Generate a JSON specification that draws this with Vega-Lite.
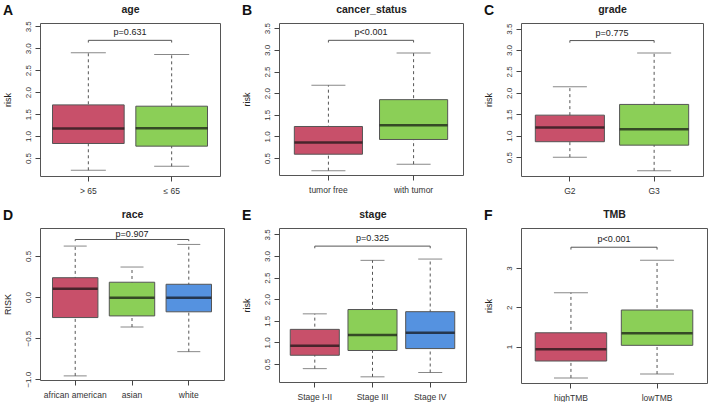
{
  "$schema": "https://vega.github.io/schema/vega-lite/v6.json",
  "padding": {"left": 2, "top": 3, "right": 0, "bottom": 0},
  "background": "white",
  "resolve": {"scale": {"color": "independent"}},
  "config": {
    "font": "Liberation Sans",
    "view": {"stroke": "#555", "strokeWidth": 1},
    "axis": {"labelColor": "#333", "tickColor": "#444", "titleColor": "#222", "labelFont": "Liberation Sans", "titleFont": "Liberation Sans", "grid": false, "labelOverlap": false},
    "title": {"font": "Liberation Sans", "color": "#111"}
  },
  "datasets": {
    "A": [
      {"group": "> 65", "lo": 0.22, "q1": 0.83, "med": 1.17, "q3": 1.71, "hi": 2.9},
      {"group": "≤ 65", "lo": 0.31, "q1": 0.77, "med": 1.18, "q3": 1.68, "hi": 2.86}
    ],
    "A_p": [{"g1": "> 65", "g2": "≤ 65", "mid": "> 65", "y": 3.18, "ylo": 3.13, "label": "p=0.631"}],
    "B": [
      {"group": "tumor free", "lo": 0.21, "q1": 0.59, "med": 0.86, "q3": 1.23, "hi": 2.18},
      {"group": "with tumor", "lo": 0.36, "q1": 0.93, "med": 1.26, "q3": 1.85, "hi": 2.93}
    ],
    "B_p": [{"g1": "tumor free", "g2": "with tumor", "mid": "tumor free", "y": 3.22, "ylo": 3.17, "label": "p<0.001"}],
    "C": [
      {"group": "G2", "lo": 0.5, "q1": 0.86, "med": 1.19, "q3": 1.48, "hi": 2.14},
      {"group": "G3", "lo": 0.18, "q1": 0.78, "med": 1.15, "q3": 1.73, "hi": 2.93}
    ],
    "C_p": [{"g1": "G2", "g2": "G3", "mid": "G2", "y": 3.22, "ylo": 3.17, "label": "p=0.775"}],
    "D": [
      {"group": "african american", "lo": -0.96, "q1": -0.25, "med": 0.1, "q3": 0.235, "hi": 0.62},
      {"group": "asian", "lo": -0.365, "q1": -0.23, "med": -0.01, "q3": 0.18, "hi": 0.365},
      {"group": "white", "lo": -0.665, "q1": -0.18, "med": -0.01, "q3": 0.155, "hi": 0.64}
    ],
    "D_p": [{"g1": "african american", "g2": "white", "mid": "asian", "y": 0.7, "ylo": 0.68, "label": "p=0.907"}],
    "E": [
      {"group": "Stage I-II", "lo": 0.39, "q1": 0.7, "med": 0.92, "q3": 1.3, "hi": 1.66},
      {"group": "Stage III", "lo": 0.2, "q1": 0.81, "med": 1.17, "q3": 1.76, "hi": 2.9},
      {"group": "Stage IV", "lo": 0.3, "q1": 0.855, "med": 1.22, "q3": 1.71, "hi": 2.93}
    ],
    "E_p": [{"g1": "Stage I-II", "g2": "Stage IV", "mid": "Stage III", "y": 3.23, "ylo": 3.18, "label": "p=0.325"}],
    "F": [
      {"group": "highTMB", "lo": 0.2, "q1": 0.63, "med": 0.93, "q3": 1.35, "hi": 2.37},
      {"group": "lowTMB", "lo": 0.3, "q1": 1.03, "med": 1.34, "q3": 1.93, "hi": 3.2}
    ],
    "F_p": [{"g1": "highTMB", "g2": "lowTMB", "mid": "highTMB", "y": 3.53, "ylo": 3.47, "label": "p<0.001"}]
  },
  "columns": 3,
  "spacing": {"row": 13, "column": 16},
  "concat": [
    {
      "width": 180, "height": 153,
      "title": {"text": "A", "anchor": "start", "frame": "bounds", "fontSize": 14, "fontWeight": "bold", "offset": -14},
      "resolve": {"axis": {"x": "independent"}},
      "layer": [
        {"data": {"name": "A"}, "mark": {"type": "rule", "strokeDash": [3, 3], "color": "#555", "strokeWidth": 1},
         "encoding": {"x": {"field": "group", "type": "nominal", "axis": null}, "y": {"field": "lo", "type": "quantitative"}, "y2": {"field": "hi"}}},
        {"data": {"name": "A"}, "mark": {"type": "tick", "size": 35, "thickness": 1, "color": "#555"},
         "encoding": {"x": {"field": "group", "type": "nominal", "axis": null}, "y": {"field": "lo", "type": "quantitative"}}},
        {"data": {"name": "A"}, "mark": {"type": "tick", "size": 35, "thickness": 1, "color": "#555"},
         "encoding": {"x": {"field": "group", "type": "nominal", "axis": null}, "y": {"field": "hi", "type": "quantitative"}}},
        {"data": {"name": "A"}, "mark": {"type": "bar", "width": {"band": 0.86}, "stroke": "#555", "strokeWidth": 1},
         "encoding": {
           "x": {"field": "group", "type": "nominal", "scale": {"domain": ["> 65", "≤ 65"], "paddingInner": 0, "paddingOuter": 0.08},
                 "axis": {"orient": "bottom", "title": null, "labelAngle": 0, "tickSize": 5, "labelPadding": 5, "labelFontSize": 8.5, "domain": false}},
           "y": {"field": "q1", "type": "quantitative", "scale": {"domain": [0.09, 3.575], "nice": false, "zero": false},
                 "axis": {"values": [0.5, 1, 1.5, 2, 2.5, 3, 3.5], "tickCount": 20, "format": ".1f", "labelOverlap": false, "title": "risk", "labelAngle": -90, "labelAlign": "center", "labelBaseline": "bottom", "tickSize": 5, "labelPadding": 3, "labelFontSize": 8, "domain": false, "titleFontSize": 9, "titleFontWeight": "normal", "titlePadding": 12}},
           "y2": {"field": "q3"},
           "color": {"field": "group", "type": "nominal", "scale": {"domain": ["> 65", "≤ 65"], "range": ["#C8506A", "#8BCF57"]}, "legend": null}}},
        {"data": {"name": "A"}, "mark": {"type": "tick", "size": 72, "thickness": 2.5, "color": "#111"},
         "encoding": {"x": {"field": "group", "type": "nominal", "axis": null}, "y": {"field": "med", "type": "quantitative"}}},
        {"data": {"name": "A_p"}, "mark": {"type": "rule", "color": "#555", "strokeWidth": 1},
         "encoding": {"x": {"field": "g1", "type": "nominal", "bandPosition": 0.5,
                 "axis": {"orient": "top", "title": "age", "labels": false, "ticks": false, "domain": false, "titleFontWeight": "bold", "titleFontSize": 10.5, "titlePadding": 9}},
           "x2": {"field": "g2"}, "y": {"field": "y", "type": "quantitative"}}},
        {"data": {"name": "A_p"}, "mark": {"type": "rule", "color": "#555", "strokeWidth": 1},
         "encoding": {"x": {"field": "g1", "type": "nominal", "axis": null}, "y": {"field": "y", "type": "quantitative"}, "y2": {"field": "ylo"}}},
        {"data": {"name": "A_p"}, "mark": {"type": "rule", "color": "#555", "strokeWidth": 1},
         "encoding": {"x": {"field": "g2", "type": "nominal", "axis": null}, "y": {"field": "y", "type": "quantitative"}, "y2": {"field": "ylo"}}},
        {"data": {"name": "A_p"}, "mark": {"type": "text", "baseline": "bottom", "dy": -3, "fontSize": 9, "color": "#222"},
         "encoding": {"x": {"field": "mid", "type": "nominal", "bandPosition": 1, "axis": null}, "y": {"field": "y", "type": "quantitative"}, "text": {"field": "label"}}}
      ]
    },
    {
      "width": 184, "height": 152,
      "title": {"text": "B", "anchor": "start", "frame": "bounds", "fontSize": 14, "fontWeight": "bold", "offset": -14},
      "resolve": {"axis": {"x": "independent"}},
      "layer": [
        {"data": {"name": "B"}, "mark": {"type": "rule", "strokeDash": [3, 3], "color": "#555", "strokeWidth": 1},
         "encoding": {"x": {"field": "group", "type": "nominal", "axis": null}, "y": {"field": "lo", "type": "quantitative"}, "y2": {"field": "hi"}}},
        {"data": {"name": "B"}, "mark": {"type": "tick", "size": 34, "thickness": 1, "color": "#555"},
         "encoding": {"x": {"field": "group", "type": "nominal", "axis": null}, "y": {"field": "lo", "type": "quantitative"}}},
        {"data": {"name": "B"}, "mark": {"type": "tick", "size": 34, "thickness": 1, "color": "#555"},
         "encoding": {"x": {"field": "group", "type": "nominal", "axis": null}, "y": {"field": "hi", "type": "quantitative"}}},
        {"data": {"name": "B"}, "mark": {"type": "bar", "width": {"band": 0.8}, "stroke": "#555", "strokeWidth": 1},
         "encoding": {
           "x": {"field": "group", "type": "nominal", "scale": {"domain": ["tumor free", "with tumor"], "paddingInner": 0, "paddingOuter": 0.08},
                 "axis": {"orient": "bottom", "title": null, "labelAngle": 0, "tickSize": 5, "labelPadding": 5, "labelFontSize": 8.5, "domain": false}},
           "y": {"field": "q1", "type": "quantitative", "scale": {"domain": [0.11, 3.62], "nice": false, "zero": false},
                 "axis": {"values": [0.5, 1, 1.5, 2, 2.5, 3, 3.5], "tickCount": 20, "format": ".1f", "labelOverlap": false, "title": "risk", "labelAngle": -90, "labelAlign": "center", "labelBaseline": "bottom", "tickSize": 5, "labelPadding": 3, "labelFontSize": 8, "domain": false, "titleFontSize": 9, "titleFontWeight": "normal", "titlePadding": 12}},
           "y2": {"field": "q3"},
           "color": {"field": "group", "type": "nominal", "scale": {"domain": ["tumor free", "with tumor"], "range": ["#C8506A", "#8BCF57"]}, "legend": null}}},
        {"data": {"name": "B"}, "mark": {"type": "tick", "size": 68, "thickness": 2.5, "color": "#111"},
         "encoding": {"x": {"field": "group", "type": "nominal", "axis": null}, "y": {"field": "med", "type": "quantitative"}}},
        {"data": {"name": "B_p"}, "mark": {"type": "rule", "color": "#555", "strokeWidth": 1},
         "encoding": {"x": {"field": "g1", "type": "nominal", "bandPosition": 0.5,
                 "axis": {"orient": "top", "title": "cancer_status", "labels": false, "ticks": false, "domain": false, "titleFontWeight": "bold", "titleFontSize": 10.5, "titlePadding": 9}},
           "x2": {"field": "g2"}, "y": {"field": "y", "type": "quantitative"}}},
        {"data": {"name": "B_p"}, "mark": {"type": "rule", "color": "#555", "strokeWidth": 1},
         "encoding": {"x": {"field": "g1", "type": "nominal", "axis": null}, "y": {"field": "y", "type": "quantitative"}, "y2": {"field": "ylo"}}},
        {"data": {"name": "B_p"}, "mark": {"type": "rule", "color": "#555", "strokeWidth": 1},
         "encoding": {"x": {"field": "g2", "type": "nominal", "axis": null}, "y": {"field": "y", "type": "quantitative"}, "y2": {"field": "ylo"}}},
        {"data": {"name": "B_p"}, "mark": {"type": "text", "baseline": "bottom", "dy": -3, "fontSize": 9, "color": "#222"},
         "encoding": {"x": {"field": "mid", "type": "nominal", "bandPosition": 1, "axis": null}, "y": {"field": "y", "type": "quantitative"}, "text": {"field": "label"}}}
      ]
    },
    {
      "width": 182, "height": 153,
      "title": {"text": "C", "anchor": "start", "frame": "bounds", "fontSize": 14, "fontWeight": "bold", "offset": -14},
      "resolve": {"axis": {"x": "independent"}},
      "layer": [
        {"data": {"name": "C"}, "mark": {"type": "rule", "strokeDash": [3, 3], "color": "#555", "strokeWidth": 1},
         "encoding": {"x": {"field": "group", "type": "nominal", "axis": null}, "y": {"field": "lo", "type": "quantitative"}, "y2": {"field": "hi"}}},
        {"data": {"name": "C"}, "mark": {"type": "tick", "size": 34, "thickness": 1, "color": "#555"},
         "encoding": {"x": {"field": "group", "type": "nominal", "axis": null}, "y": {"field": "lo", "type": "quantitative"}}},
        {"data": {"name": "C"}, "mark": {"type": "tick", "size": 34, "thickness": 1, "color": "#555"},
         "encoding": {"x": {"field": "group", "type": "nominal", "axis": null}, "y": {"field": "hi", "type": "quantitative"}}},
        {"data": {"name": "C"}, "mark": {"type": "bar", "width": {"band": 0.82}, "stroke": "#555", "strokeWidth": 1},
         "encoding": {
           "x": {"field": "group", "type": "nominal", "scale": {"domain": ["G2", "G3"], "paddingInner": 0, "paddingOuter": 0.08},
                 "axis": {"orient": "bottom", "title": null, "labelAngle": 0, "tickSize": 5, "labelPadding": 5, "labelFontSize": 8.5, "domain": false}},
           "y": {"field": "q1", "type": "quantitative", "scale": {"domain": [0.06, 3.63], "nice": false, "zero": false},
                 "axis": {"values": [0.5, 1, 1.5, 2, 2.5, 3, 3.5], "tickCount": 20, "format": ".1f", "labelOverlap": false, "title": "risk", "labelAngle": -90, "labelAlign": "center", "labelBaseline": "bottom", "tickSize": 5, "labelPadding": 3, "labelFontSize": 8, "domain": false, "titleFontSize": 9, "titleFontWeight": "normal", "titlePadding": 12}},
           "y2": {"field": "q3"},
           "color": {"field": "group", "type": "nominal", "scale": {"domain": ["G2", "G3"], "range": ["#C8506A", "#8BCF57"]}, "legend": null}}},
        {"data": {"name": "C"}, "mark": {"type": "tick", "size": 69, "thickness": 2.5, "color": "#111"},
         "encoding": {"x": {"field": "group", "type": "nominal", "axis": null}, "y": {"field": "med", "type": "quantitative"}}},
        {"data": {"name": "C_p"}, "mark": {"type": "rule", "color": "#555", "strokeWidth": 1},
         "encoding": {"x": {"field": "g1", "type": "nominal", "bandPosition": 0.5,
                 "axis": {"orient": "top", "title": "grade", "labels": false, "ticks": false, "domain": false, "titleFontWeight": "bold", "titleFontSize": 10.5, "titlePadding": 9}},
           "x2": {"field": "g2"}, "y": {"field": "y", "type": "quantitative"}}},
        {"data": {"name": "C_p"}, "mark": {"type": "rule", "color": "#555", "strokeWidth": 1},
         "encoding": {"x": {"field": "g1", "type": "nominal", "axis": null}, "y": {"field": "y", "type": "quantitative"}, "y2": {"field": "ylo"}}},
        {"data": {"name": "C_p"}, "mark": {"type": "rule", "color": "#555", "strokeWidth": 1},
         "encoding": {"x": {"field": "g2", "type": "nominal", "axis": null}, "y": {"field": "y", "type": "quantitative"}, "y2": {"field": "ylo"}}},
        {"data": {"name": "C_p"}, "mark": {"type": "text", "baseline": "bottom", "dy": -3, "fontSize": 9, "color": "#222"},
         "encoding": {"x": {"field": "mid", "type": "nominal", "bandPosition": 1, "axis": null}, "y": {"field": "y", "type": "quantitative"}, "text": {"field": "label"}}}
      ]
    },
    {
      "width": 184, "height": 152,
      "title": {"text": "D", "anchor": "start", "frame": "bounds", "fontSize": 14, "fontWeight": "bold", "offset": -14},
      "resolve": {"axis": {"x": "independent"}},
      "layer": [
        {"data": {"name": "D"}, "mark": {"type": "rule", "strokeDash": [3, 3], "color": "#555", "strokeWidth": 1},
         "encoding": {"x": {"field": "group", "type": "nominal", "axis": null}, "y": {"field": "lo", "type": "quantitative"}, "y2": {"field": "hi"}}},
        {"data": {"name": "D"}, "mark": {"type": "tick", "size": 23, "thickness": 1, "color": "#555"},
         "encoding": {"x": {"field": "group", "type": "nominal", "axis": null}, "y": {"field": "lo", "type": "quantitative"}}},
        {"data": {"name": "D"}, "mark": {"type": "tick", "size": 23, "thickness": 1, "color": "#555"},
         "encoding": {"x": {"field": "group", "type": "nominal", "axis": null}, "y": {"field": "hi", "type": "quantitative"}}},
        {"data": {"name": "D"}, "mark": {"type": "bar", "width": {"band": 0.8}, "stroke": "#555", "strokeWidth": 1},
         "encoding": {
           "x": {"field": "group", "type": "nominal", "scale": {"domain": ["african american", "asian", "white"], "paddingInner": 0, "paddingOuter": 0.12},
                 "axis": {"orient": "bottom", "title": null, "labelAngle": 0, "tickSize": 5, "labelPadding": 5, "labelFontSize": 8.5, "domain": false}},
           "y": {"field": "q1", "type": "quantitative", "scale": {"domain": [-1.01, 0.84], "nice": false, "zero": false},
                 "axis": {"values": [-1, -0.5, 0, 0.5], "tickCount": 20, "format": ".1f", "labelOverlap": false, "title": "RISK", "labelAngle": -90, "labelAlign": "center", "labelBaseline": "bottom", "tickSize": 5, "labelPadding": 3, "labelFontSize": 8, "domain": false, "titleFontSize": 9, "titleFontWeight": "normal", "titlePadding": 12}},
           "y2": {"field": "q3"},
           "color": {"field": "group", "type": "nominal", "scale": {"domain": ["african american", "asian", "white"], "range": ["#C8506A", "#8BCF57", "#5592E0"]}, "legend": null}}},
        {"data": {"name": "D"}, "mark": {"type": "tick", "size": 45, "thickness": 2.5, "color": "#111"},
         "encoding": {"x": {"field": "group", "type": "nominal", "axis": null}, "y": {"field": "med", "type": "quantitative"}}},
        {"data": {"name": "D_p"}, "mark": {"type": "rule", "color": "#555", "strokeWidth": 1},
         "encoding": {"x": {"field": "g1", "type": "nominal", "bandPosition": 0.5,
                 "axis": {"orient": "top", "title": "race", "labels": false, "ticks": false, "domain": false, "titleFontWeight": "bold", "titleFontSize": 10.5, "titlePadding": 9}},
           "x2": {"field": "g2"}, "y": {"field": "y", "type": "quantitative"}}},
        {"data": {"name": "D_p"}, "mark": {"type": "rule", "color": "#555", "strokeWidth": 1},
         "encoding": {"x": {"field": "g1", "type": "nominal", "axis": null}, "y": {"field": "y", "type": "quantitative"}, "y2": {"field": "ylo"}}},
        {"data": {"name": "D_p"}, "mark": {"type": "rule", "color": "#555", "strokeWidth": 1},
         "encoding": {"x": {"field": "g2", "type": "nominal", "axis": null}, "y": {"field": "y", "type": "quantitative"}, "y2": {"field": "ylo"}}},
        {"data": {"name": "D_p"}, "mark": {"type": "text", "baseline": "bottom", "dy": -1, "fontSize": 9, "color": "#222"},
         "encoding": {"x": {"field": "mid", "type": "nominal", "bandPosition": 0.5, "axis": null}, "y": {"field": "y", "type": "quantitative"}, "text": {"field": "label"}}}
      ]
    },
    {
      "width": 187, "height": 154,
      "title": {"text": "E", "anchor": "start", "frame": "bounds", "fontSize": 14, "fontWeight": "bold", "offset": -14},
      "resolve": {"axis": {"x": "independent"}},
      "layer": [
        {"data": {"name": "E"}, "mark": {"type": "rule", "strokeDash": [3, 3], "color": "#555", "strokeWidth": 1},
         "encoding": {"x": {"field": "group", "type": "nominal", "axis": null}, "y": {"field": "lo", "type": "quantitative"}, "y2": {"field": "hi"}}},
        {"data": {"name": "E"}, "mark": {"type": "tick", "size": 24, "thickness": 1, "color": "#555"},
         "encoding": {"x": {"field": "group", "type": "nominal", "axis": null}, "y": {"field": "lo", "type": "quantitative"}}},
        {"data": {"name": "E"}, "mark": {"type": "tick", "size": 24, "thickness": 1, "color": "#555"},
         "encoding": {"x": {"field": "group", "type": "nominal", "axis": null}, "y": {"field": "hi", "type": "quantitative"}}},
        {"data": {"name": "E"}, "mark": {"type": "bar", "width": {"band": 0.85}, "stroke": "#555", "strokeWidth": 1},
         "encoding": {
           "x": {"field": "group", "type": "nominal", "scale": {"domain": ["Stage I-II", "Stage III", "Stage IV"], "paddingInner": 0, "paddingOuter": 0.12},
                 "axis": {"orient": "bottom", "title": null, "labelAngle": 0, "tickSize": 5, "labelPadding": 5, "labelFontSize": 8.5, "domain": false}},
           "y": {"field": "q1", "type": "quantitative", "scale": {"domain": [0.08, 3.65], "nice": false, "zero": false},
                 "axis": {"values": [0.5, 1, 1.5, 2, 2.5, 3, 3.5], "tickCount": 20, "format": ".1f", "labelOverlap": false, "title": "risk", "labelAngle": -90, "labelAlign": "center", "labelBaseline": "bottom", "tickSize": 5, "labelPadding": 3, "labelFontSize": 8, "domain": false, "titleFontSize": 9, "titleFontWeight": "normal", "titlePadding": 12}},
           "y2": {"field": "q3"},
           "color": {"field": "group", "type": "nominal", "scale": {"domain": ["Stage I-II", "Stage III", "Stage IV"], "range": ["#C8506A", "#8BCF57", "#5592E0"]}, "legend": null}}},
        {"data": {"name": "E"}, "mark": {"type": "tick", "size": 49, "thickness": 2.5, "color": "#111"},
         "encoding": {"x": {"field": "group", "type": "nominal", "axis": null}, "y": {"field": "med", "type": "quantitative"}}},
        {"data": {"name": "E_p"}, "mark": {"type": "rule", "color": "#555", "strokeWidth": 1},
         "encoding": {"x": {"field": "g1", "type": "nominal", "bandPosition": 0.5,
                 "axis": {"orient": "top", "title": "stage", "labels": false, "ticks": false, "domain": false, "titleFontWeight": "bold", "titleFontSize": 10.5, "titlePadding": 9}},
           "x2": {"field": "g2"}, "y": {"field": "y", "type": "quantitative"}}},
        {"data": {"name": "E_p"}, "mark": {"type": "rule", "color": "#555", "strokeWidth": 1},
         "encoding": {"x": {"field": "g1", "type": "nominal", "axis": null}, "y": {"field": "y", "type": "quantitative"}, "y2": {"field": "ylo"}}},
        {"data": {"name": "E_p"}, "mark": {"type": "rule", "color": "#555", "strokeWidth": 1},
         "encoding": {"x": {"field": "g2", "type": "nominal", "axis": null}, "y": {"field": "y", "type": "quantitative"}, "y2": {"field": "ylo"}}},
        {"data": {"name": "E_p"}, "mark": {"type": "text", "baseline": "bottom", "dy": -3, "fontSize": 9, "color": "#222"},
         "encoding": {"x": {"field": "mid", "type": "nominal", "bandPosition": 0.5, "axis": null}, "y": {"field": "y", "type": "quantitative"}, "text": {"field": "label"}}}
      ]
    },
    {
      "width": 186, "height": 155,
      "title": {"text": "F", "anchor": "start", "frame": "bounds", "fontSize": 14, "fontWeight": "bold", "offset": -14},
      "resolve": {"axis": {"x": "independent"}},
      "layer": [
        {"data": {"name": "F"}, "mark": {"type": "rule", "strokeDash": [3, 3], "color": "#555", "strokeWidth": 1},
         "encoding": {"x": {"field": "group", "type": "nominal", "axis": null}, "y": {"field": "lo", "type": "quantitative"}, "y2": {"field": "hi"}}},
        {"data": {"name": "F"}, "mark": {"type": "tick", "size": 34, "thickness": 1, "color": "#555"},
         "encoding": {"x": {"field": "group", "type": "nominal", "axis": null}, "y": {"field": "lo", "type": "quantitative"}}},
        {"data": {"name": "F"}, "mark": {"type": "tick", "size": 34, "thickness": 1, "color": "#555"},
         "encoding": {"x": {"field": "group", "type": "nominal", "axis": null}, "y": {"field": "hi", "type": "quantitative"}}},
        {"data": {"name": "F"}, "mark": {"type": "bar", "width": {"band": 0.83}, "stroke": "#555", "strokeWidth": 1},
         "encoding": {
           "x": {"field": "group", "type": "nominal", "scale": {"domain": ["highTMB", "lowTMB"], "paddingInner": 0, "paddingOuter": 0.08},
                 "axis": {"orient": "bottom", "title": null, "labelAngle": 0, "tickSize": 5, "labelPadding": 5, "labelFontSize": 8.5, "domain": false}},
           "y": {"field": "q1", "type": "quantitative", "scale": {"domain": [0.07, 4.02], "nice": false, "zero": false},
                 "axis": {"values": [1, 2, 3], "tickCount": 20, "format": "d", "labelOverlap": false, "title": "risk", "labelAngle": -90, "labelAlign": "center", "labelBaseline": "bottom", "tickSize": 5, "labelPadding": 3, "labelFontSize": 8, "domain": false, "titleFontSize": 9, "titleFontWeight": "normal", "titlePadding": 12}},
           "y2": {"field": "q3"},
           "color": {"field": "group", "type": "nominal", "scale": {"domain": ["highTMB", "lowTMB"], "range": ["#C8506A", "#8BCF57"]}, "legend": null}}},
        {"data": {"name": "F"}, "mark": {"type": "tick", "size": 71, "thickness": 2.5, "color": "#111"},
         "encoding": {"x": {"field": "group", "type": "nominal", "axis": null}, "y": {"field": "med", "type": "quantitative"}}},
        {"data": {"name": "F_p"}, "mark": {"type": "rule", "color": "#555", "strokeWidth": 1},
         "encoding": {"x": {"field": "g1", "type": "nominal", "bandPosition": 0.5,
                 "axis": {"orient": "top", "title": "TMB", "labels": false, "ticks": false, "domain": false, "titleFontWeight": "bold", "titleFontSize": 10.5, "titlePadding": 9}},
           "x2": {"field": "g2"}, "y": {"field": "y", "type": "quantitative"}}},
        {"data": {"name": "F_p"}, "mark": {"type": "rule", "color": "#555", "strokeWidth": 1},
         "encoding": {"x": {"field": "g1", "type": "nominal", "axis": null}, "y": {"field": "y", "type": "quantitative"}, "y2": {"field": "ylo"}}},
        {"data": {"name": "F_p"}, "mark": {"type": "rule", "color": "#555", "strokeWidth": 1},
         "encoding": {"x": {"field": "g2", "type": "nominal", "axis": null}, "y": {"field": "y", "type": "quantitative"}, "y2": {"field": "ylo"}}},
        {"data": {"name": "F_p"}, "mark": {"type": "text", "baseline": "bottom", "dy": -3, "fontSize": 9, "color": "#222"},
         "encoding": {"x": {"field": "mid", "type": "nominal", "bandPosition": 1, "axis": null}, "y": {"field": "y", "type": "quantitative"}, "text": {"field": "label"}}}
      ]
    }
  ]
}
